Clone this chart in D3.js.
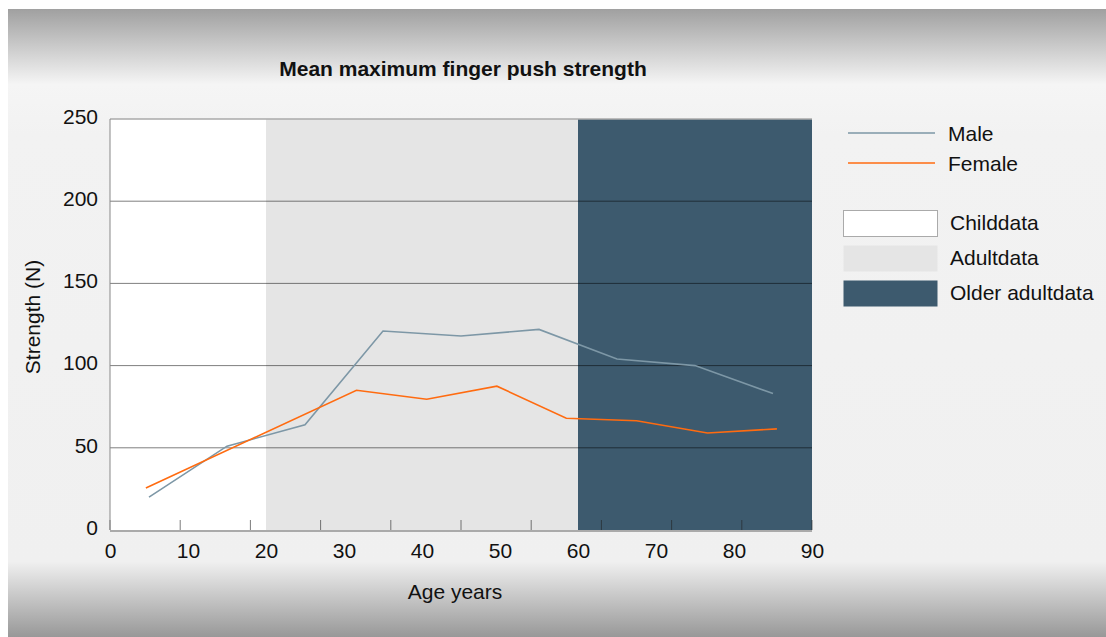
<!DOCTYPE html>
<html>
<head>
<meta charset="utf-8">
<script src="https://cdn.jsdelivr.net/npm/d3@7"></script>
<style>
  body { margin: 0; background: #fff; }
  text { font-family: "Liberation Sans", Arial, sans-serif; fill: #111; }
</style>
</head>
<body>
<div id="chart"></div>
<script>
// Data
const maleAge = [5, 15, 25, 35, 45, 55, 65, 75, 85];
const maleStrength = [20, 51, 64, 121, 118, 122, 104, 100, 83];
const femaleAge = [4.6, 31.6, 40.6, 49.6, 58.5, 67.5, 76.6, 85.5];
const femaleStrength = [25.5, 85, 79.5, 87.5, 68, 66.5, 59, 61.5];
const bands = [
  { name: "Childdata", from: 0, to: 20 },
  { name: "Adultdata", from: 20, to: 60 },
  { name: "Older adultdata", from: 60, to: 90 }
];
const bandColors = ["#ffffff", "#e5e5e5", "#3d5a6e"];
const xLabels = [0, 10, 20, 30, 40, 50, 60, 70, 80, 90];
const xTickMarks = [0, 9, 18, 27, 36, 45, 54, 63, 72, 81, 90];
const yTicks = [0, 50, 100, 150, 200, 250];

const width = 1106;
const height = 637;
const margin = { top: 119, right: 294, bottom: 107, left: 110 };
const fontSize = "21px";

const svg = d3.select("#chart")
  .append("svg")
  .attr("width", width)
  .attr("height", height);

// Background with grey fades at top and bottom
const defs = svg.append("defs");
const bg = defs.append("linearGradient")
  .attr("id", "bg")
  .attr("gradientUnits", "userSpaceOnUse")
  .attr("x1", 0).attr("x2", 0)
  .attr("y1", 9).attr("y2", height);
[[0, "#a0a0a0"], [0.12, "#f5f5f5"], [0.2, "#f2f2f2"], [0.88, "#f0f0f0"], [1, "#989898"]].forEach(([o, c]) => {
  bg.append("stop").attr("offset", o).attr("stop-color", c);
});
svg.append("rect")
  .attr("x", 8).attr("y", 9)
  .attr("width", width - 8).attr("height", height - 9)
  .attr("fill", "url(#bg)");

const x = d3.scaleLinear().domain([0, 90]).range([margin.left, width - margin.right]);
const y = d3.scaleLinear().domain([0, 250]).range([height - margin.bottom, margin.top]);

// Age bands
svg.append("g")
  .selectAll("rect")
  .data(bands)
  .join("rect")
  .attr("x", d => x(d.from))
  .attr("y", y(250))
  .attr("width", d => x(d.to) - x(d.from))
  .attr("height", y(0) - y(250))
  .attr("fill", (d, i) => bandColors[i]);

// Gridlines
svg.append("g")
  .selectAll("line")
  .data(yTicks.filter(d => d > 0 && d < 250))
  .join("line")
  .attr("x1", x(0)).attr("x2", x(90))
  .attr("y1", d => y(d)).attr("y2", d => y(d))
  .attr("stroke", "#000")
  .attr("stroke-opacity", 0.5);

svg.append("line")
  .attr("x1", x(0)).attr("x2", x(90))
  .attr("y1", y(250)).attr("y2", y(250))
  .attr("stroke", "#aaa")
  .attr("stroke-width", 1.5);

// X tick marks (evenly spaced, inside the plot)
svg.append("g")
  .selectAll("line")
  .data(xTickMarks)
  .join("line")
  .attr("x1", d => x(d)).attr("x2", d => x(d))
  .attr("y1", y(0) - 10).attr("y2", y(0))
  .attr("stroke", "#222")
  .attr("stroke-opacity", 0.6);

// Axis lines
svg.append("line")
  .attr("x1", x(0)).attr("x2", x(0))
  .attr("y1", y(250)).attr("y2", y(0))
  .attr("stroke", "#888");
svg.append("line")
  .attr("x1", x(0)).attr("x2", x(90))
  .attr("y1", y(0) + 1).attr("y2", y(0) + 1)
  .attr("stroke", "#aaa")
  .attr("stroke-width", 2);

// Axis labels
const xAxis = d3.axisBottom(x).tickValues(xLabels).tickSize(0).tickPadding(13);
svg.append("g")
  .attr("transform", `translate(0, ${y(0)})`)
  .call(xAxis)
  .call(g => g.select(".domain").remove())
  .selectAll("text")
  .style("font-size", fontSize)
  .style("font-family", "Liberation Sans, Arial, sans-serif")
  .attr("fill", "#111");

const yAxis = d3.axisLeft(y).tickValues(yTicks).tickSize(0).tickPadding(12);
svg.append("g")
  .attr("transform", `translate(${x(0)}, 0)`)
  .call(yAxis)
  .call(g => g.select(".domain").remove())
  .selectAll("text")
  .style("font-size", fontSize)
  .style("font-family", "Liberation Sans, Arial, sans-serif")
  .attr("fill", "#111")
  .attr("dy", "0.2em");

svg.append("text")
  .attr("x", 455)
  .attr("y", 599)
  .attr("text-anchor", "middle")
  .style("font-size", fontSize)
  .text("Age years");

svg.append("text")
  .attr("transform", "translate(40, 317) rotate(-90)")
  .attr("text-anchor", "middle")
  .style("font-size", fontSize)
  .text("Strength (N)");

svg.append("text")
  .attr("x", 463)
  .attr("y", 76)
  .attr("text-anchor", "middle")
  .style("font-size", fontSize)
  .style("font-weight", "bold")
  .text("Mean maximum finger push strength");

// Lines
const line = d3.line()
  .x(d => x(d[0]))
  .y(d => y(d[1]));

const series = [
  { name: "Male", color: "#7d97a6", values: d3.zip(maleAge, maleStrength) },
  { name: "Female", color: "#ff6b10", values: d3.zip(femaleAge, femaleStrength) }
];

svg.append("g")
  .selectAll("path")
  .data(series)
  .join("path")
  .attr("d", d => line(d.values))
  .attr("fill", "none")
  .attr("stroke", d => d.color)
  .attr("stroke-width", 1.6);

// Legend
const legend = svg.append("g");
series.forEach((s, i) => {
  const ly = 133 + i * 30;
  legend.append("line")
    .attr("x1", 848).attr("x2", 935)
    .attr("y1", ly).attr("y2", ly)
    .attr("stroke", s.color)
    .attr("stroke-width", 1.5);
  legend.append("text")
    .attr("x", 948).attr("y", ly + 8)
    .style("font-size", fontSize)
    .text(s.name);
});

bands.forEach((b, i) => {
  const ry = 210 + i * 35;
  legend.append("rect")
    .attr("x", 843.5).attr("y", ry + 0.5)
    .attr("width", 94).attr("height", 26)
    .attr("fill", bandColors[i])
    .attr("stroke", i === 0 ? "#aaa" : "none");
  legend.append("text")
    .attr("x", 950).attr("y", ry + 20)
    .style("font-size", fontSize)
    .text(b.name);
});
</script>
</body>
</html>
